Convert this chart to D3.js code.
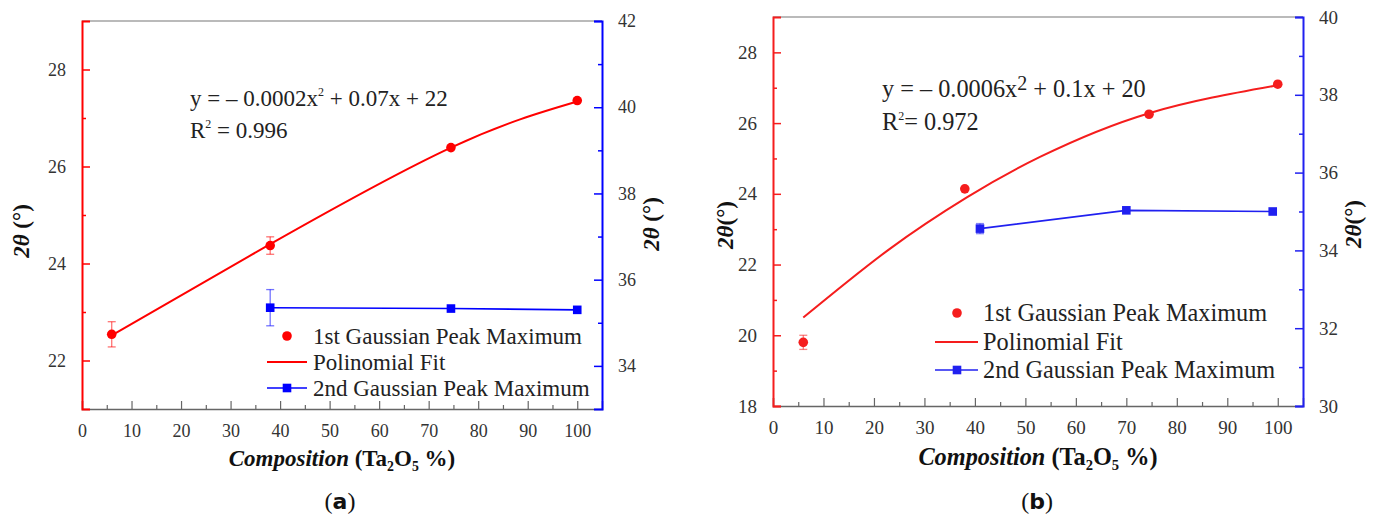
<!DOCTYPE html>
<html>
<head>
<meta charset="utf-8">
<script src="https://cdn.jsdelivr.net/npm/d3@7"></script>
<style>
  html, body { margin: 0; padding: 0; background: #fff; }
  svg { display: block; font-family: "Liberation Serif", "Times New Roman", serif; }
</style>
</head>
<body>
<svg id="chart" width="1379" height="517"></svg>
<script>
// ---------------- DATA ----------------
// Panel (a)
const compA1 = [6, 38, 74.5, 100];
const peak1A = [22.54, 24.37, 26.39, 27.36];
const err1A  = [0.26, 0.18, 0, 0];
const fitXA  = [6, 38, 74.5, 100];
const fitYA  = [22.52, 24.4, 26.39, 27.34];
const compA2 = [38, 74.5, 100];
const peak2A = [35.35, 35.33, 35.3];
const err2A  = [0.42, 0, 0];

// Panel (b)
const compB1 = [6, 38, 74.5, 100];
const peak1B = [19.8, 24.14, 26.25, 27.1];
const err1B  = [0.2, 0, 0, 0];
const fitXB  = [6, 23, 38.4, 53, 74.5, 100];
const fitYB  = [20.5, 22.43, 23.9, 25.05, 26.28, 27.07];
const compB2 = [41, 70, 99];
const peak2B = [34.56, 35.03, 35.0];
const err2B  = [0.13, 0, 0];

// Axis ticks
const xTicks = [0, 10, 20, 30, 40, 50, 60, 70, 80, 90, 100];
const yLeftTicksA  = [22, 24, 26, 28];
const yRightTicksA = [34, 36, 38, 40, 42];
const yLeftTicksB  = [18, 20, 22, 24, 26, 28];
const yRightTicksB = [30, 32, 34, 36, 38, 40];

const legendLabels = ["1st Gaussian Peak Maximum", "Polinomial Fit", "2nd Gaussian Peak Maximum"];

// ---------------- DRAW ----------------
const svg = d3.select("#chart");

function drawPanel(p) {
  const g = svg.append("g");
  const x = d3.scaleLinear().domain([0, 105]).range([p.left, p.right]);
  const yL = d3.scaleLinear().domain(p.yLDomain).range([p.bottom, p.top]);
  const yR = d3.scaleLinear().domain(p.yRDomain).range([p.bottom, p.top]);
  const tickColor = "#333";
  const tfs = p.tickFs;

  // top border
  g.append("line").attr("x1", p.left).attr("x2", p.right).attr("y1", p.top).attr("y2", p.top)
    .attr("stroke", "#777").attr("stroke-width", 1.2);

  // bottom axis
  const xAxis = d3.axisBottom(x).tickValues(xTicks).tickSize(-8).tickPadding(15).tickFormat(d3.format("d"));
  const gx = g.append("g").attr("transform", `translate(0,${p.bottom})`).call(xAxis);
  gx.select(".domain").attr("stroke", "#666").attr("stroke-width", 1.5);
  gx.selectAll(".tick line").attr("stroke", "#666").attr("stroke-width", 1.2);
  gx.selectAll(".tick text").attr("fill", tickColor).attr("font-size", tfs)
    .attr("font-family", "Liberation Serif");
  const xMinor = d3.axisBottom(x).tickValues(d3.range(5, 100, 10)).tickSize(-4).tickFormat("");
  const gxm = g.append("g").attr("transform", `translate(0,${p.bottom})`).call(xMinor);
  gxm.select(".domain").remove();
  gxm.selectAll(".tick line").attr("stroke", "#666").attr("stroke-width", 1.2);

  // left axis
  const yLAxis = d3.axisLeft(yL).tickValues(p.yLTicks).tickSize(-8).tickPadding(16).tickFormat(d3.format("d"));
  const gyl = g.append("g").attr("transform", `translate(${p.left},0)`).call(yLAxis);
  gyl.select(".domain").attr("stroke", p.red).attr("stroke-width", 2);
  gyl.selectAll(".tick line").attr("stroke", p.red).attr("stroke-width", 1.5);
  gyl.selectAll(".tick text").attr("fill", tickColor).attr("font-size", tfs)
    .attr("font-family", "Liberation Serif");
  const yLMinor = d3.axisLeft(yL).tickValues(p.yLMinor).tickSize(-4).tickFormat("");
  const gylm = g.append("g").attr("transform", `translate(${p.left},0)`).call(yLMinor);
  gylm.select(".domain").remove();
  gylm.selectAll(".tick line").attr("stroke", p.red).attr("stroke-width", 1.5);

  // right axis
  const yRAxis = d3.axisRight(yR).tickValues(p.yRTicks).tickSize(-8).tickPadding(16).tickFormat(d3.format("d"));
  const gyr = g.append("g").attr("transform", `translate(${p.right},0)`).call(yRAxis);
  gyr.select(".domain").attr("stroke", p.blue).attr("stroke-width", 2);
  gyr.selectAll(".tick line").attr("stroke", p.blue).attr("stroke-width", 1.5);
  gyr.selectAll(".tick text").attr("fill", tickColor).attr("font-size", tfs)
    .attr("font-family", "Liberation Serif");
  const yRMinor = d3.axisRight(yR).tickValues(p.yRMinor).tickSize(-4).tickFormat("");
  const gyrm = g.append("g").attr("transform", `translate(${p.right},0)`).call(yRMinor);
  gyrm.select(".domain").remove();
  gyrm.selectAll(".tick line").attr("stroke", p.blue).attr("stroke-width", 1.5);

  // fit curve
  const fitPts = p.fitX.map((d, i) => [d, p.fitY[i]]);
  g.append("path").datum(fitPts)
    .attr("fill", "none").attr("stroke", p.red).attr("stroke-width", 2)
    .attr("d", d3.line().x(d => x(d[0])).y(d => yL(d[1])).curve(d3.curveNatural));

  // 2nd series line
  const s2 = p.c2.map((d, i) => ({x: d, y: p.v2[i], e: p.e2[i]}));
  g.append("path").datum(s2)
    .attr("fill", "none").attr("stroke", p.blue).attr("stroke-width", 1.6)
    .attr("d", d3.line().x(d => x(d.x)).y(d => yR(d.y)));

  // error bars
  const s1 = p.c1.map((d, i) => ({x: d, y: p.v1[i], e: p.e1[i]}));
  function errBars(data, ys, color) {
    const eb = g.append("g").attr("stroke", color).attr("stroke-opacity", 0.55).attr("stroke-width", 1.3);
    data.filter(d => d.e > 0).forEach(d => {
      const cx = x(d.x), y1 = ys(d.y - d.e), y2 = ys(d.y + d.e);
      eb.append("line").attr("x1", cx).attr("x2", cx).attr("y1", y1).attr("y2", y2);
      eb.append("line").attr("x1", cx - 4).attr("x2", cx + 4).attr("y1", y1).attr("y2", y1);
      eb.append("line").attr("x1", cx - 4).attr("x2", cx + 4).attr("y1", y2).attr("y2", y2);
    });
  }
  errBars(s1, yL, p.red);
  errBars(s2, yR, p.blue);

  // markers
  g.selectAll(".c1").data(s1).enter().append("circle")
    .attr("cx", d => x(d.x)).attr("cy", d => yL(d.y)).attr("r", 4.8).attr("fill", p.red);
  g.selectAll(".s2").data(s2).enter().append("rect")
    .attr("x", d => x(d.x) - 4.3).attr("y", d => yR(d.y) - 4.3)
    .attr("width", 8.6).attr("height", 8.6).attr("fill", p.blue);

  // legend
  const L = p.legend;
  g.append("circle").attr("cx", L.sym).attr("cy", L.rows[0]).attr("r", 4.8).attr("fill", p.red);
  g.append("line").attr("x1", L.l1).attr("x2", L.l2).attr("y1", L.rows[1]).attr("y2", L.rows[1])
    .attr("stroke", p.red).attr("stroke-width", 2);
  g.append("line").attr("x1", L.l1).attr("x2", L.l2).attr("y1", L.rows[2]).attr("y2", L.rows[2])
    .attr("stroke", p.blue).attr("stroke-width", 1.6);
  g.append("rect").attr("x", L.sym - 4.3).attr("y", L.rows[2] - 4.3).attr("width", 8.6).attr("height", 8.6)
    .attr("fill", p.blue);
  legendLabels.forEach((t, i) => {
    g.append("text").attr("x", L.tx).attr("y", L.rows[i] + 8)
      .attr("font-size", L.fs).attr("fill", "#222").text(t);
  });

  // equation
  const eq = g.append("text").attr("x", p.eq.x).attr("y", p.eq.y1).attr("font-size", p.eq.fs).attr("fill", "#222");
  eq.append("tspan").text(p.eq.pre);
  eq.append("tspan").attr("font-size", p.eq.supFs).attr("dy", p.eq.supDy).text("2");
  eq.append("tspan").attr("dy", -p.eq.supDy).text(p.eq.post);
  const r2 = g.append("text").attr("x", p.eq.x).attr("y", p.eq.y2).attr("font-size", p.eq.fs).attr("fill", "#222");
  r2.append("tspan").text("R");
  r2.append("tspan").attr("font-size", 12).attr("dy", -10).text("2");
  r2.append("tspan").attr("dy", 10).text(p.eq.r2);

  // x title
  const xt = g.append("text").attr("x", p.xTitle.x).attr("y", p.xTitle.y).attr("text-anchor", "middle")
    .attr("font-size", p.xTitle.fs).attr("font-weight", "bold").attr("fill", "#111");
  xt.append("tspan").attr("font-style", "italic").text("Composition");
  xt.append("tspan").text(" (Ta");
  xt.append("tspan").attr("font-size", p.xTitle.fs * 0.6).attr("dy", 5).text("2");
  xt.append("tspan").attr("dy", -5).text("O");
  xt.append("tspan").attr("font-size", p.xTitle.fs * 0.6).attr("dy", 5).text("5");
  xt.append("tspan").attr("dy", -5).text(" %)");

  // y titles
  function yTitle(cx, cy, sep) {
    const t = g.append("text").attr("transform", `translate(${cx},${cy}) rotate(-90)`)
      .attr("text-anchor", "middle").attr("dominant-baseline", "central")
      .attr("font-size", 23).attr("font-weight", "bold").attr("fill", "#111");
    t.append("tspan").attr("font-style", "italic").text("2θ");
    t.append("tspan").text(sep + "(°)");
  }
  yTitle(p.yT.lx, p.yT.ly, p.yT.sep);
  yTitle(p.yT.rx, p.yT.ry, p.yT.sep);

  // caption
  const cap = g.append("text").attr("x", p.cap.x).attr("y", p.cap.y).attr("text-anchor", "middle")
    .attr("font-size", 24).attr("fill", "#111");
  cap.append("tspan").text("(");
  cap.append("tspan").attr("font-weight", "bold").attr("font-family", "DejaVu Sans").attr("font-size", 22).text(p.cap.letter);
  cap.append("tspan").text(")");
}

drawPanel({
  left: 82, right: 602, top: 21, bottom: 409,
  yLDomain: [21, 29], yRDomain: [33, 42],
  yLTicks: yLeftTicksA, yRTicks: yRightTicksA,
  yLMinor: [23, 25, 27], yRMinor: [35, 37, 39, 41],
  red: "#ff0000", blue: "#0000ff", tickFs: 18,
  c1: compA1, v1: peak1A, e1: err1A,
  fitX: fitXA, fitY: fitYA,
  c2: compA2, v2: peak2A, e2: err2A,
  legend: {sym: 287, l1: 267, l2: 307, tx: 313, rows: [336, 362, 388], fs: 23},
  eq: {x: 190, y1: 106, y2: 138, fs: 23, pre: "y = – 0.0002x", supFs: 12, supDy: -10,
       post: " + 0.07x + 22", r2: " = 0.996"},
  xTitle: {x: 342, y: 466, fs: 23},
  yT: {lx: 21, ly: 231, rx: 651, ry: 224, sep: " "},
  cap: {x: 340, y: 509, letter: "a"}
});

drawPanel({
  left: 773, right: 1303, top: 17, bottom: 406,
  yLDomain: [18, 29], yRDomain: [30, 40],
  yLTicks: yLeftTicksB, yRTicks: yRightTicksB,
  yLMinor: [19, 21, 23, 25, 27], yRMinor: [31, 33, 35, 37, 39],
  red: "#f51d1d", blue: "#2020f0", tickFs: 19,
  c1: compB1, v1: peak1B, e1: err1B,
  fitX: fitXB, fitY: fitYB,
  c2: compB2, v2: peak2B, e2: err2B,
  legend: {sym: 957, l1: 935, l2: 978, tx: 983, rows: [313, 342, 370], fs: 24.3},
  eq: {x: 882, y1: 97, y2: 130, fs: 24.3, pre: "y = – 0.0006x", supFs: 20, supDy: -7,
       post: " + 0.1x + 20", r2: "= 0.972"},
  xTitle: {x: 1038, y: 465, fs: 24.3},
  yT: {lx: 725, ly: 225, rx: 1353, ry: 224, sep: ""},
  cap: {x: 1037, y: 509, letter: "b"}
});
</script>
</body>
</html>
